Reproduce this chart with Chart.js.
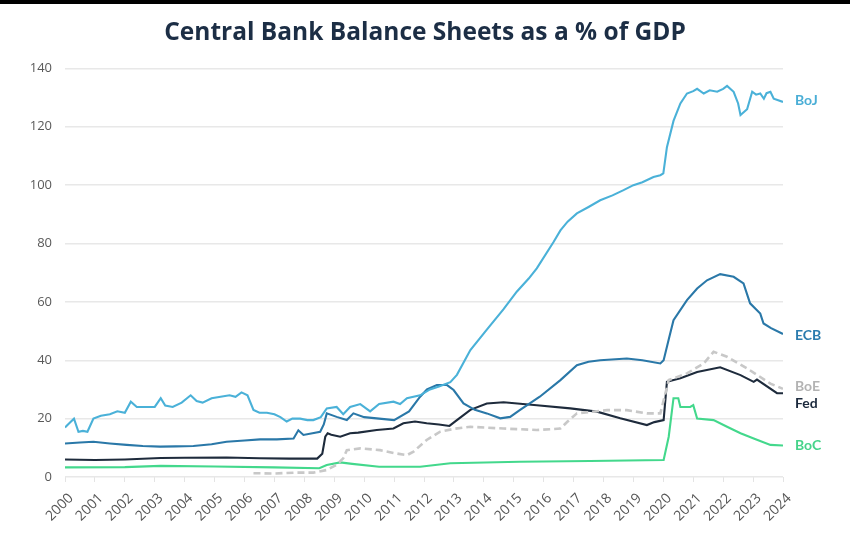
<!DOCTYPE html>
<html>
<head>
<meta charset="utf-8">
<script src="https://cdn.jsdelivr.net/npm/chart.js@4"></script>
<style>
  html, body { margin: 0; padding: 0; background: #fff; }
  #wrap { position: relative; width: 850px; height: 540px; }
</style>
</head>
<body>
<div id="wrap"><canvas id="c" width="850" height="540"></canvas></div>
<script>
// ---- data (years as decimal, values as % of GDP) ----
const yearTicks = ['2000','2001','2002','2003','2004','2005','2006','2007','2008','2009','2010','2011','2012','2013','2014','2015','2016','2017','2018','2019','2020','2021','2022','2023','2024'];
const yTicks = [0, 20, 40, 60, 80, 100, 120, 140];

const bojYears = [2000.0,2000.15,2000.3,2000.45,2000.6,2000.75,2000.95,2001.2,2001.5,2001.75,2002.0,2002.2,2002.4,2002.7,2003.0,2003.2,2003.35,2003.6,2003.9,2004.2,2004.4,2004.6,2004.9,2005.2,2005.5,2005.7,2005.9,2006.1,2006.3,2006.5,2006.75,2007.0,2007.2,2007.41,2007.6,2007.86,2008.1,2008.3,2008.55,2008.75,2009.08,2009.3,2009.53,2009.87,2010.2,2010.5,2010.98,2011.2,2011.43,2011.87,2012.2,2012.5,2012.88,2013.1,2013.55,2014.1,2014.66,2015.1,2015.5,2015.77,2016.33,2016.56,2016.8,2017.11,2017.5,2017.89,2018.3,2018.67,2019.0,2019.3,2019.67,2019.9,2020.0,2020.12,2020.34,2020.57,2020.79,2021.0,2021.13,2021.35,2021.55,2021.8,2022.0,2022.13,2022.35,2022.5,2022.58,2022.8,2022.97,2023.1,2023.24,2023.36,2023.45,2023.58,2023.69,2024.0];
const bojPct   = [17,18.5,20,15.5,15.8,15.5,20,21,21.5,22.5,22,25.8,24,24,24,27,24.5,24,25.5,28,26,25.5,27,27.5,28,27.5,29,28,23,22,22,21.5,20.5,19,20,20,19.5,19.5,20.5,23.5,24,21.5,24,25,22.5,25,25.8,25,27,28,30,31,32.5,35,43.5,50.5,57.5,63.5,68,71.5,80.5,84.5,87.5,90.3,92.5,94.8,96.5,98.3,100,101,102.8,103.4,104,113,122,128,131.4,132.2,133,131.4,132.5,132,133,134,132,128,124,126,132,131,131.4,129.6,131.5,132,129.6,128.5];

const ecbYears = [2000.0,2000.5,2000.95,2001.5,2002.06,2002.6,2003.18,2003.7,2004.29,2004.9,2005.4,2006.0,2006.52,2007.08,2007.64,2007.8,2007.97,2008.53,2008.65,2008.75,2009.08,2009.42,2009.64,2010.0,2010.5,2011.0,2011.5,2011.87,2012.1,2012.43,2012.77,2012.99,2013.32,2013.7,2014.1,2014.55,2014.88,2015.2,2015.87,2016.56,2017.11,2017.5,2017.89,2018.78,2019.3,2019.9,2020.01,2020.2,2020.34,2020.79,2021.13,2021.46,2021.9,2022.35,2022.68,2022.9,2023.24,2023.35,2023.6,2024.0];
const ecbPct   = [11.5,11.8,12.1,11.5,11,10.6,10.4,10.5,10.6,11.2,12.1,12.5,12.9,12.9,13.2,16,14.4,15.5,18,21.8,20.6,19.5,21.8,20.5,20,19.5,22.5,27.5,30,31.5,31.5,29.8,25.2,23,21.8,20.1,20.6,22.9,27.5,33.2,38.3,39.5,40,40.6,40,38.9,40,48,53.7,60.6,64.6,67.4,69.5,68.6,66.3,59.5,56,52.6,51,49];

const fedYears = [2000.0,2001.0,2002.0,2003.2,2004.0,2005.4,2006.5,2007.5,2008.43,2008.6,2008.7,2008.78,2008.9,2009.2,2009.53,2009.8,2010.42,2010.98,2011.31,2011.7,2012.09,2012.5,2012.85,2013.1,2013.55,2014.1,2014.66,2015.77,2016.89,2017.78,2018.56,2019.45,2019.7,2020.01,2020.12,2020.57,2021.13,2021.9,2022.58,2023.02,2023.13,2023.8,2024.0];
const fedPct   = [6,5.8,6,6.5,6.6,6.7,6.4,6.3,6.3,8,13.8,15,14.5,13.8,15,15.2,16.1,16.6,18.4,19,18.4,18,17.5,19.5,23,25.2,25.6,24.6,23.5,22.4,20.1,17.8,18.8,19.5,32.6,33.8,36,37.6,34.9,32.6,33.4,28.7,28.7];

const boeYears = [2006.3,2007.0,2007.7,2008.3,2008.75,2009.08,2009.3,2009.42,2009.87,2010.53,2011.0,2011.43,2011.65,2012.09,2012.54,2013.0,2013.55,2014.66,2015.77,2016.56,2016.8,2017.11,2018.12,2018.78,2019.45,2019.9,2020.18,2020.79,2021.35,2021.68,2022.13,2022.8,2023.58,2024.0];
const boePct   = [1.3,1.2,1.5,1.5,2.4,4.2,6.4,9.2,9.8,9.2,8.2,7.5,8.7,12.7,15.5,16.5,17.2,16.6,16.1,16.6,19,21.8,22.9,22.9,21.8,21.8,33.2,35.5,38.9,42.9,41.2,37.2,32,30.2];

const bocYears = [2000.0,2002.0,2003.2,2005.0,2007.0,2008.5,2008.75,2009.2,2009.6,2010.5,2011.87,2012.88,2015.2,2017.55,2020.01,2020.18,2020.34,2020.5,2020.57,2020.9,2021.0,2021.13,2021.68,2022.13,2022.58,2023.02,2023.58,2024.0];
const bocPct   = [3.3,3.4,3.8,3.6,3.3,3.0,4.1,5.0,4.5,3.5,3.5,4.7,5.2,5.5,5.8,13.8,27,27,24,24,24.6,20,19.5,17.2,15,13.2,11,10.8];

const seriesNames = ['BoJ', 'ECB', 'BoE', 'Fed', 'BoC'];

// ---- build ----
const pts = (xs, ys) => xs.map((x, i) => ({ x: x, y: ys[i] }));
const colors = { BoJ: '#4ab1d8', ECB: '#2a78a8', BoE: '#c8c8c8', Fed: '#1e2b3c', BoC: '#43d88c' };
const labelColors = { BoJ: '#4aaed6', ECB: '#2b7cae', BoE: '#b3b3b3', Fed: '#1c2a3d', BoC: '#46d38a' };
const labelOffsets = { BoJ: -1, ECB: 1, BoE: -2, Fed: 10, BoC: 0 };

const seriesData = {
  BoJ: pts(bojYears, bojPct),
  ECB: pts(ecbYears, ecbPct),
  BoE: pts(boeYears, boePct),
  Fed: pts(fedYears, fedPct),
  BoC: pts(bocYears, bocPct)
};

const datasets = seriesNames.map(n => ({
  label: n,
  data: seriesData[n],
  borderColor: colors[n],
  backgroundColor: colors[n],
  borderWidth: n === 'BoE' ? 2.6 : 2.1,
  borderDash: n === 'BoE' ? [7, 4] : [],
  pointRadius: 0,
  tension: 0,
  fill: false
}));

const bgPlugin = {
  id: 'bg',
  beforeDraw(chart) {
    const ctx = chart.ctx;
    ctx.save();
    ctx.fillStyle = '#ffffff';
    ctx.fillRect(0, 0, chart.width, chart.height);
    ctx.fillStyle = '#000000';
    ctx.fillRect(0, 0, chart.width, 4);
    ctx.restore();
  }
};

const endLabels = {
  id: 'endLabels',
  afterDatasetsDraw(chart) {
    const ctx = chart.ctx;
    ctx.save();
    ctx.font = 'bold 14px Lato, "Open Sans", sans-serif';
    ctx.textAlign = 'left';
    ctx.textBaseline = 'middle';
    chart.data.datasets.forEach((ds, i) => {
      const meta = chart.getDatasetMeta(i);
      const last = meta.data[meta.data.length - 1];
      ctx.fillStyle = labelColors[ds.label];
      ctx.fillText(ds.label, chart.chartArea.right + 12, last.y + labelOffsets[ds.label]);
    });
    ctx.restore();
  }
};

new Chart(document.getElementById('c'), {
  type: 'line',
  data: { datasets: datasets },
  plugins: [bgPlugin, endLabels],
  options: {
    responsive: false,
    animation: false,
    layout: { padding: 0 },
    plugins: {
      legend: { display: false },
      tooltip: { enabled: false },
      title: {
        display: true,
        text: 'Central Bank Balance Sheets as a % of GDP',
        color: '#1c2e45',
        font: { family: '"Open Sans", sans-serif', size: 24.5, weight: 'bold' },
        padding: { top: 18, bottom: 21 }
      }
    },
    scales: {
      x: {
        type: 'linear',
        min: 2000,
        max: 2024,
        afterBuildTicks(scale) {
          scale.ticks = yearTicks.map(t => ({ value: Number(t) }));
        },
        afterFit(scale) { scale.height = 63; },
        ticks: {
          autoSkip: false,
          maxRotation: 45,
          minRotation: 45,
          padding: 8,
          labelOffset: 6,
          color: '#555555',
          font: { family: '"Open Sans", sans-serif', size: 14 },
          callback: (v) => yearTicks[Math.round(v - 2000)]
        },
        grid: { drawOnChartArea: false, drawTicks: true, tickLength: 5, color: '#e4e4e4' },
        border: { display: false }
      },
      y: {
        min: 0,
        max: 140,
        afterBuildTicks(scale) {
          scale.ticks = yTicks.map(v => ({ value: v }));
        },
        afterFit(scale) { scale.width = 65; },
        ticks: {
          padding: 13,
          color: '#5a5a5a',
          font: { family: '"Open Sans", sans-serif', size: 13 }
        },
        grid: { color: '#e8e8e8', lineWidth: 1.5, drawTicks: false },
        border: { display: false }
      },
      yRight: {
        position: 'right',
        min: 0,
        max: 140,
        afterFit(scale) { scale.width = 67; },
        ticks: { display: false },
        grid: { display: false, drawTicks: false },
        border: { display: false }
      }
    }
  }
});
</script>
</body>
</html>
